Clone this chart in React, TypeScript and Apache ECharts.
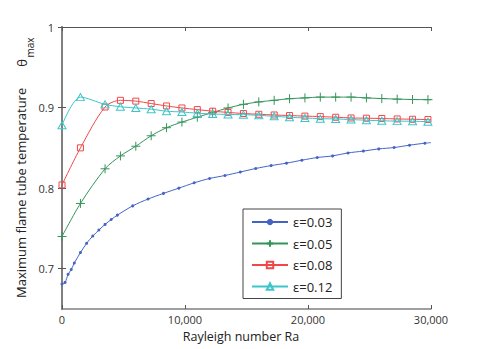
import React, { useEffect, useRef } from "react";
import * as echarts from "echarts";

// ---- data ----
const RA_003 = [0, 250, 500, 750, 1000, 1500, 2000, 2500, 3000, 3500, 4000, 4500, 5750, 7000, 8250, 9500, 10750, 12000, 13250, 14500, 15750, 17000, 18250, 19500, 20750, 22000, 23250, 24500, 25750, 27000, 28250, 29500];
const THETA_003 = [0.681, 0.683, 0.693, 0.699, 0.707, 0.72, 0.7315, 0.7405, 0.748, 0.755, 0.761, 0.7665, 0.778, 0.7865, 0.7935, 0.8, 0.8066, 0.812, 0.8157, 0.82, 0.8244, 0.828, 0.831, 0.8347, 0.838, 0.84, 0.8437, 0.846, 0.8487, 0.8504, 0.8533, 0.8558];

const RA_MARK = [0, 1500, 3500, 4750, 6000, 7250, 8500, 9750, 11000, 12250, 13500, 14750, 16000, 17250, 18500, 19750, 21000, 22250, 23500, 24750, 26000, 27250, 28500, 29750];
const THETA_005 = [0.74, 0.781, 0.824, 0.84, 0.852, 0.865, 0.875, 0.882, 0.888, 0.894, 0.8995, 0.904, 0.907, 0.909, 0.911, 0.912, 0.913, 0.913, 0.913, 0.912, 0.9112, 0.9105, 0.91, 0.9098];
const THETA_008 = [0.804, 0.85, 0.9007, 0.909, 0.908, 0.905, 0.902, 0.8995, 0.8975, 0.8955, 0.894, 0.8926, 0.8917, 0.8908, 0.8901, 0.8894, 0.8888, 0.888, 0.8871, 0.8868, 0.8864, 0.8859, 0.8855, 0.8851];
const THETA_012 = [0.878, 0.913, 0.904, 0.901, 0.8995, 0.898, 0.8955, 0.8945, 0.893, 0.892, 0.8915, 0.8912, 0.8904, 0.8892, 0.888, 0.8871, 0.8862, 0.8859, 0.8851, 0.8843, 0.8836, 0.8832, 0.883, 0.8825];

// line ends (no marker) at Ra = 30000
const RA_END = 30000;
const THETA_END = [0.8565, 0.9097, 0.885, 0.8823];

const SERIES_NAMES = ["ε=0.03", "ε=0.05", "ε=0.08", "ε=0.12"];
const X_TICKS = [0, 10000, 20000, 30000];
const X_TICK_LABELS = ["0", "10,000", "20,000", "30,000"];
const Y_TICKS = [0.7, 0.8, 0.9, 1];
const Y_TICK_LABELS = ["0.7", "0.8", "0.9", "1"];

const FONT = "Open Sans";
const BLUE = "#4464c4";
const GREEN = "#35945a";
const RED = "#f04848";
const CYAN = "#3cc6ca";

function buildData(xs: number[], ys: number[], endY: number) {
  const d: any[] = xs.map((x, i) => [x, ys[i]]);
  d.push({ value: [RA_END, endY], symbol: "none" });
  return d;
}

export default function App() {
  const ref = useRef<HTMLDivElement>(null);
  useEffect(() => {
    if (!ref.current) return;
    const chart = echarts.init(ref.current, undefined, { renderer: "svg" });
    const axisLabelStyle = { color: "#333", fontSize: 11, fontFamily: FONT };
    const option: any = {
      animation: false,
      backgroundColor: "#fff",
      grid: { left: 62, right: 47, top: 27, bottom: 40 },
      xAxis: [
        {
          type: "value",
          min: 0,
          max: 30000,
          interval: 10000,
          position: "bottom",
          axisLine: { lineStyle: { color: "#808080", width: 1.5 } },
          axisTick: { inside: true, length: 4, lineStyle: { color: "#555" } },
          axisLabel: {
            ...axisLabelStyle,
            margin: 4,
            lineHeight: 12,
            formatter: (v: number) => X_TICK_LABELS[X_TICKS.indexOf(v)] ?? "",
          },
          splitLine: { show: false },
        },
        {
          type: "value",
          min: 0,
          max: 30000,
          interval: 10000,
          position: "top",
          axisLine: { show: true, lineStyle: { color: "#555", width: 1 } },
          axisTick: { inside: true, length: 4, lineStyle: { color: "#555" } },
          axisLabel: { show: false },
          splitLine: { show: false },
        },
      ],
      yAxis: [
        {
          type: "value",
          min: 0.65,
          max: 1,
          position: "left",
          axisLine: { show: true, lineStyle: { color: "#808080", width: 2 } },
          axisTick: { inside: true, length: 4, customValues: Y_TICKS, lineStyle: { color: "#555" } },
          axisLabel: {
            ...axisLabelStyle,
            margin: 8,
            customValues: Y_TICKS,
            formatter: (v: number) => Y_TICK_LABELS[Y_TICKS.findIndex((t) => Math.abs(t - v) < 1e-6)] ?? "",
          },
          splitLine: { show: false },
        },
        {
          type: "value",
          min: 0.65,
          max: 1,
          position: "right",
          axisLine: { show: true, lineStyle: { color: "#808080", width: 1.5 } },
          axisTick: { inside: true, length: 4, customValues: Y_TICKS, lineStyle: { color: "#555" } },
          axisLabel: { show: false },
          splitLine: { show: false },
        },
      ],
      legend: {
        orient: "vertical",
        left: 243,
        top: 209,
        padding: [6, 9, 5, 8],
        itemWidth: 36,
        itemHeight: 8,
        itemGap: 7.5,
        backgroundColor: "#fff",
        borderColor: "#444",
        borderWidth: 1,
        borderRadius: 0,
        textStyle: { fontSize: 13, fontFamily: FONT, color: "#222", lineHeight: 14 },
        data: SERIES_NAMES,
      },
      series: [
        {
          name: SERIES_NAMES[0],
          type: "line",
          smooth: 0.3,
          data: buildData(RA_003, THETA_003, THETA_END[0]),
          symbol: "circle",
          symbolSize: 3,
          lineStyle: { color: BLUE, width: 1 },
          itemStyle: { color: BLUE },
          z: 2,
        },
        {
          name: SERIES_NAMES[1],
          type: "line",
          smooth: 0.3,
          data: buildData(RA_MARK, THETA_005, THETA_END[1]),
          symbol: "path://M5,0L5,10M0,5L10,5",
          symbolSize: 9,
          lineStyle: { color: GREEN, width: 1 },
          itemStyle: { color: "transparent", borderColor: GREEN, borderWidth: 1 },
          z: 3,
        },
        {
          name: SERIES_NAMES[2],
          type: "line",
          smooth: 0.3,
          data: buildData(RA_MARK, THETA_008, THETA_END[2]),
          symbol: "rect",
          symbolSize: 6,
          lineStyle: { color: RED, width: 1 },
          itemStyle: { color: "transparent", borderColor: RED, borderWidth: 1 },
          z: 4,
        },
        {
          name: SERIES_NAMES[3],
          type: "line",
          smooth: 0.3,
          data: buildData(RA_MARK, THETA_012, THETA_END[3]),
          symbol: "triangle",
          symbolSize: [8, 7],
          lineStyle: { color: CYAN, width: 1 },
          itemStyle: { color: "transparent", borderColor: CYAN, borderWidth: 1 },
          z: 5,
        },
      ],
      graphic: [
        {
          type: "text",
          x: 241,
          y: 336,
          style: {
            text: "Rayleigh number Ra",
            fill: "#222",
            fontSize: 12.5,
            lineHeight: 13,
            fontFamily: FONT,
            align: "center",
            verticalAlign: "middle",
          },
        },
        {
          type: "text",
          x: 21,
          y: 298,
          rotation: Math.PI / 2,
          style: {
            text: "Maximum flame tube temperature",
            fill: "#222",
            fontSize: 13,
            fontFamily: FONT,
            align: "left",
            verticalAlign: "middle",
          },
        },
        {
          type: "text",
          x: 21.5,
          y: 63,
          rotation: Math.PI / 2,
          style: {
            text: "θ",
            fill: "#222",
            fontSize: 13,
            fontFamily: FONT,
            align: "center",
            verticalAlign: "middle",
          },
        },
        {
          type: "text",
          x: 30,
          y: 47.5,
          rotation: Math.PI / 2,
          style: {
            text: "max",
            fill: "#222",
            fontSize: 10,
            fontFamily: FONT,
            align: "center",
            verticalAlign: "middle",
          },
        },
      ],
    };
    chart.setOption(option);
    return () => chart.dispose();
  }, []);
  return (
    <div
      ref={ref}
      style={{ position: "fixed", left: 0, top: 0, width: 478, height: 349, background: "#fff" }}
    />
  );
}
